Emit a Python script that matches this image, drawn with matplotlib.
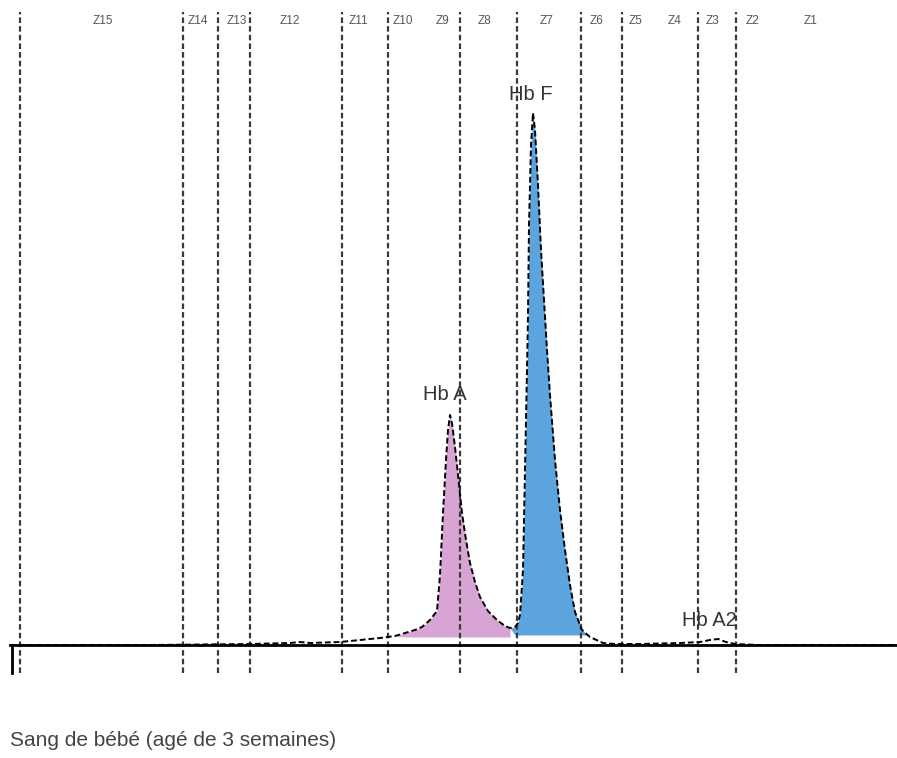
import numpy as np
import matplotlib
matplotlib.use('Agg')
import matplotlib.pyplot as plt

plt.rcParams['font.family'] = ['Liberation Sans', 'DejaVu Sans']

# migration position (px along the strip) and absorbance (arbitrary units)
position = np.array([10, 150, 250, 290, 300, 310, 340, 360, 380, 395, 405, 415, 422, 430,
                     437, 440, 443, 446, 448, 450, 452, 455, 458, 462, 466, 470, 475, 480,
                     488, 497, 505, 510, 515, 518, 520, 523, 525, 527, 528, 529, 531, 533,
                     535, 538, 541, 544, 547, 550, 555, 560, 565, 570, 575, 582, 590, 603,
                     615, 640, 680, 700, 710, 718, 726, 735, 760, 897])
absorbance = np.array([0, 0, 1, 2, 3, 2, 3, 5, 7, 9, 12, 15, 18, 25,
                       34, 70, 132, 185, 215, 230, 222, 198, 170, 132, 105, 82, 63, 48,
                       34, 25, 19, 17, 18, 22, 30, 75, 175, 275, 330, 420, 500, 532,
                       515, 460, 395, 345, 295, 250, 185, 135, 95, 60, 33, 15, 8, 2,
                       1, 1, 2, 3, 5, 6, 3, 1, 0, 0])

zone_bounds = [20, 183, 218, 250, 342, 388, 460, 517, 581, 622, 698, 736]
zone_names = ['Z15', 'Z14', 'Z13', 'Z12', 'Z11', 'Z10', 'Z9', 'Z8', 'Z7', 'Z6', 'Z5', 'Z4', 'Z3', 'Z2', 'Z1']
zone_label_x = [103, 198, 237, 290, 358, 403, 442, 485, 547, 597, 636, 675, 712, 752, 811]

peak_names = ['Hb A', 'Hb F', 'Hb A2']
peak_label_x = [445, 531, 709]
peak_label_y = [251, 550, 25]

fig = plt.figure(figsize=(8.97, 7.58), dpi=100)
ax = fig.add_axes([0, 0, 1, 1])
ax.set_xlim(0, 897)
ax.set_ylim(-113, 645)
ax.axis('off')

# shaded fractions
hba = (position >= 400) & (position <= 514) & (absorbance >= 8)
ax.fill_between(position, absorbance, 8, where=hba, interpolate=True,
                color='#d8a4d4', lw=0, zorder=1)
hbf = (position >= 514) & (position <= 592) & (absorbance >= 10)
ax.fill_between(position, absorbance, 10, where=hbf, interpolate=True,
                color='#5ba4dd', lw=0, zorder=1)

# zone separators
ax.vlines(zone_bounds, -28, 633, colors='#3a3a3a', lw=1.6,
          linestyles=(0, (2.5, 1.4)), zorder=2)
for name, x in zip(zone_names, zone_label_x):
    ax.text(x, 624, name, ha='center', va='center', fontsize=8.5, color='#555555')

# baseline
ax.plot([10, 897], [0, 0], color='black', lw=2, zorder=3)
ax.plot([12, 12], [0, -28], color='black', lw=2, zorder=3)

# scan trace
ax.plot(position, absorbance, color='black', lw=1.4, linestyle=(0, (3, 1.5)), zorder=4)

for name, x, y in zip(peak_names, peak_label_x, peak_label_y):
    ax.text(x, y, name, ha='center', va='center', fontsize=14.5, color='#333333', zorder=5)

ax.text(10, -95, 'Sang de bébé (agé de 3 semaines)', ha='left', va='center',
        fontsize=15, color='#444444')

plt.savefig('out.png', dpi=100)
